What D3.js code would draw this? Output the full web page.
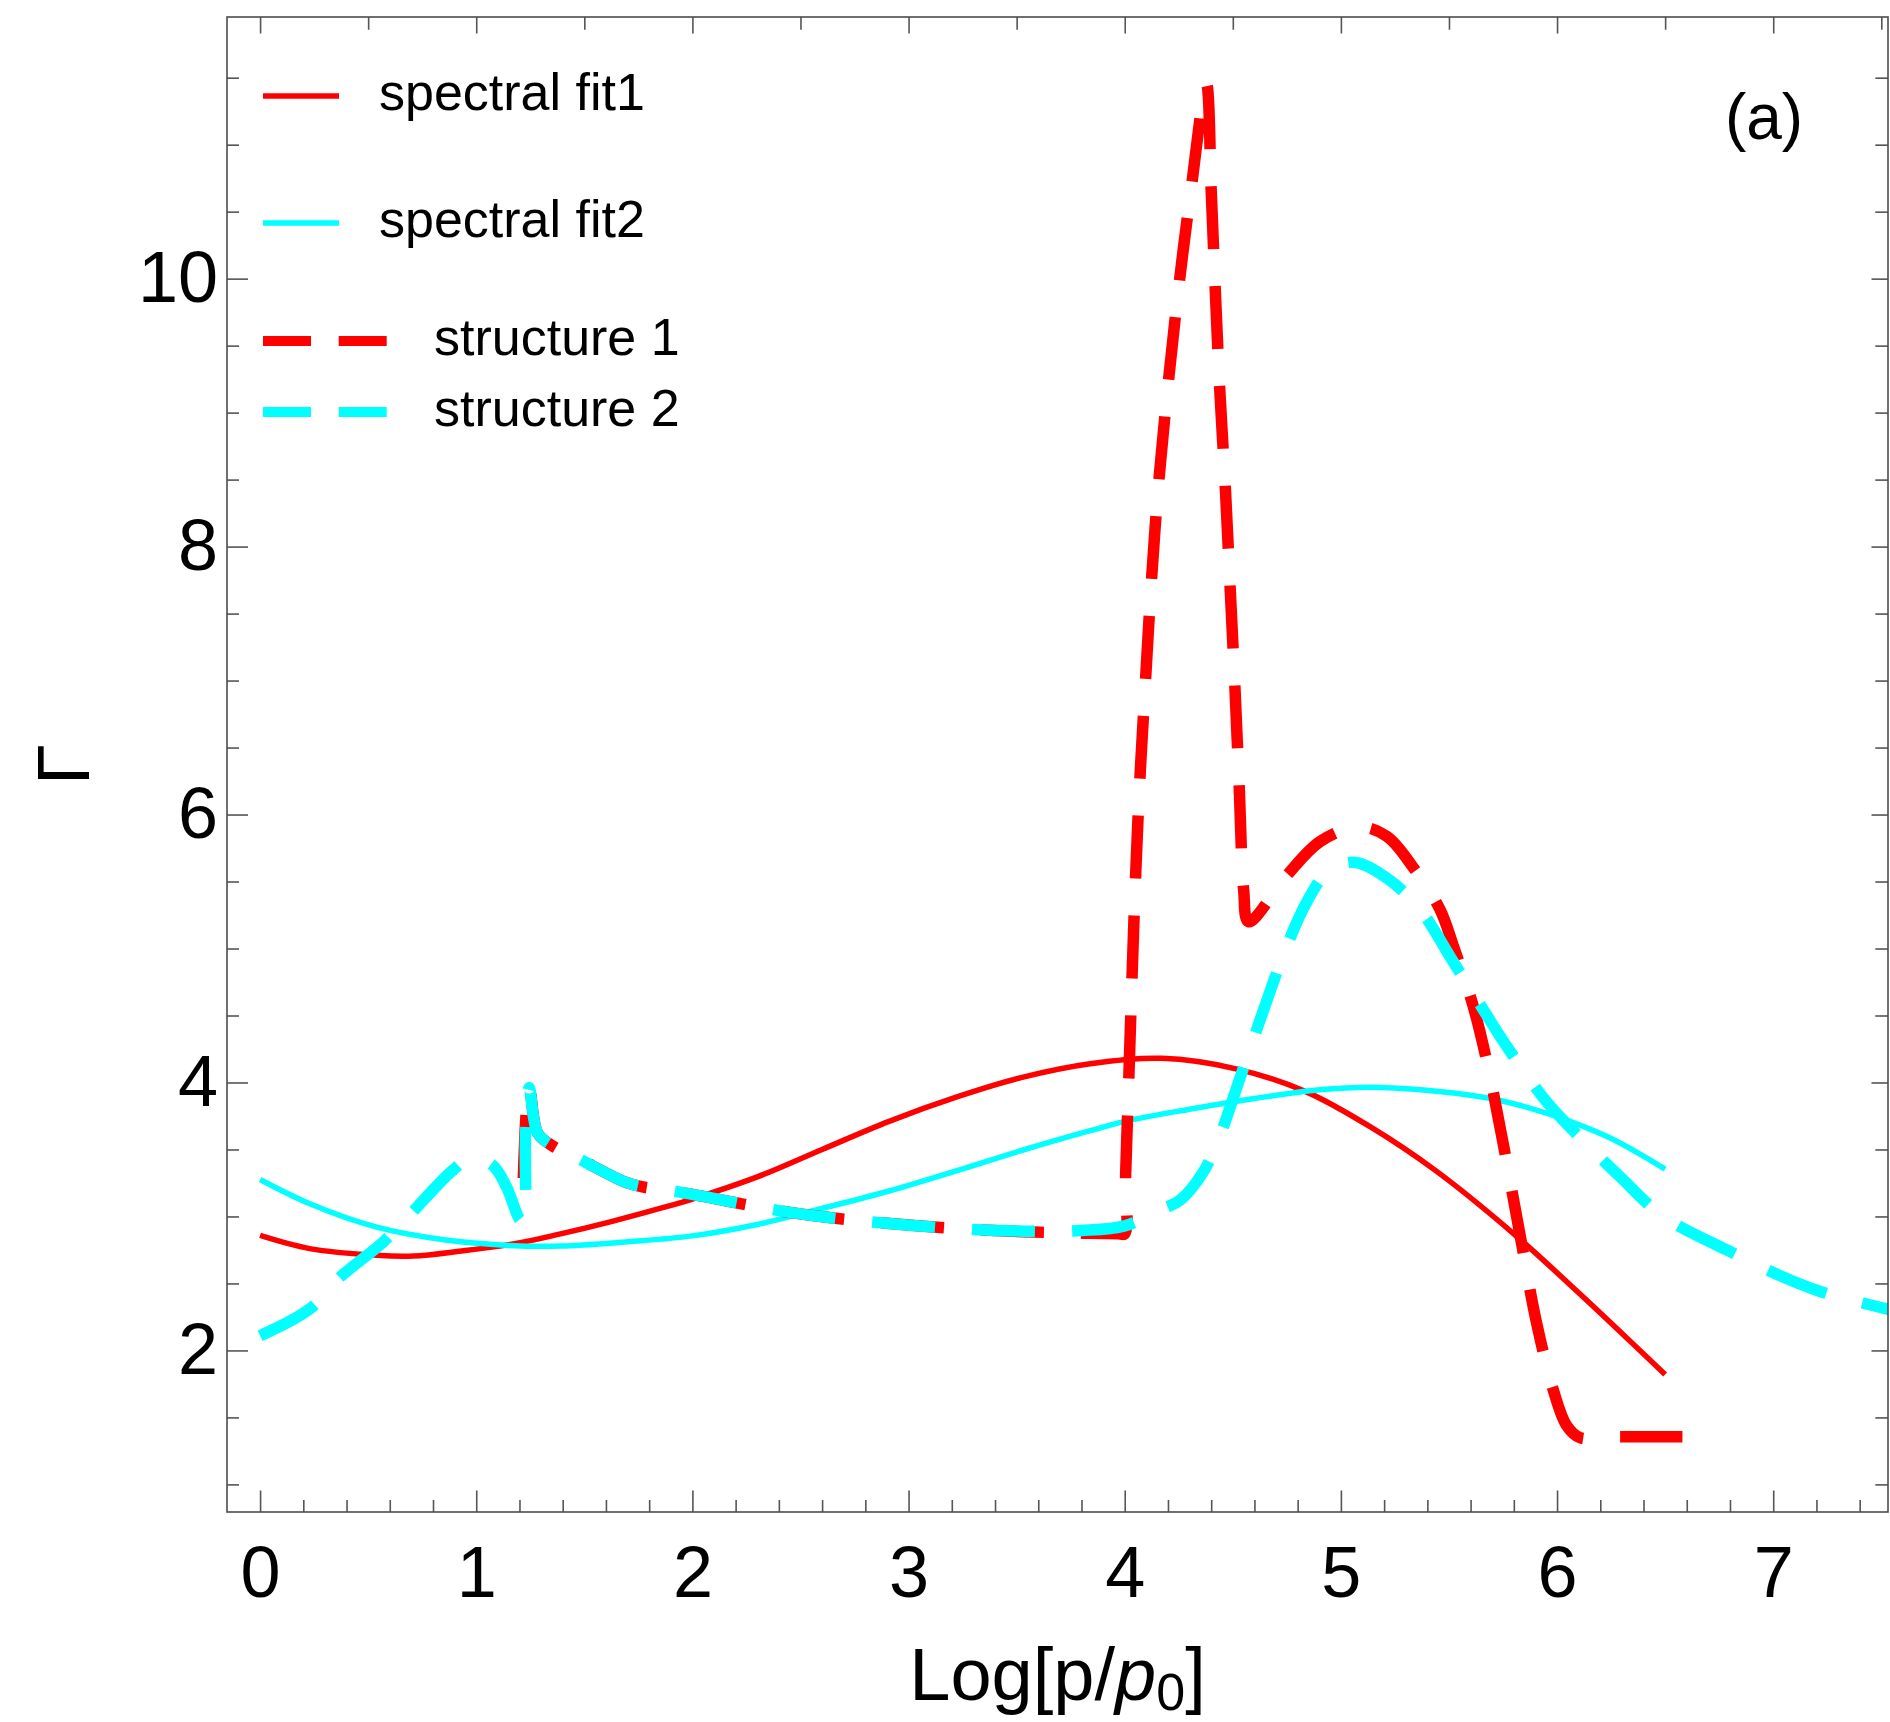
<!DOCTYPE html>
<html>
<head>
<meta charset="utf-8">
<script src="https://cdn.jsdelivr.net/npm/d3@7"></script>
<style>
  body { margin: 0; background: #fff; }
  text { font-family: "Liberation Sans", Arial, sans-serif; }
</style>
</head>
<body>
<script>
// tick labels
const xTickValues = [0, 1, 2, 3, 4, 5, 6, 7];
const yTickValues = [2, 4, 6, 8, 10];

// series: [Log[p/p0], Gamma]
const spectralFit1 = [
  [0, 2.858], [0.23, 2.76], [0.54, 2.71], [0.71, 2.705], [0.92, 2.74], [1.19, 2.80],
  [1.39, 2.87], [1.62, 2.96], [1.85, 3.06], [2.0, 3.13], [2.3, 3.295], [2.6, 3.50],
  [2.91, 3.71], [3.22, 3.89], [3.53, 4.04], [3.84, 4.14], [4.17, 4.18], [4.52, 4.10],
  [4.84, 3.93], [5.135, 3.67], [5.44, 3.34], [5.8, 2.87], [6.1, 2.43], [6.5, 1.82]
];
const spectralFit2 = [
  [0, 3.276], [0.23, 3.095], [0.54, 2.92], [0.85, 2.826], [1.15, 2.784], [1.39, 2.779],
  [1.69, 2.81], [2.0, 2.855], [2.3, 2.94], [2.6, 3.06], [2.91, 3.19], [3.22, 3.34],
  [3.53, 3.496], [3.84, 3.64], [4.0, 3.71], [4.3, 3.80], [4.6, 3.88], [4.9, 3.946],
  [5.135, 3.965], [5.37, 3.946], [5.66, 3.89], [5.85, 3.82], [6.06, 3.71], [6.26, 3.575],
  [6.5, 3.354]
];
const structure1 = [
  [1.215, 3.13], [1.245, 3.97], [1.285, 3.62], [1.36, 3.52], [1.46, 3.443], [1.69, 3.256],
  [1.77, 3.22], [1.89, 3.194], [2.0, 3.165], [2.45, 3.03], [2.76, 2.97], [3.22, 2.91],
  [3.53, 2.886], [3.8, 2.875], [3.97, 2.871], [4.0, 2.87], [4.004, 3.3], [4.018, 3.99],
  [4.033, 4.75], [4.049, 5.49], [4.069, 6.23], [4.095, 6.97], [4.123, 7.73], [4.156, 8.46],
  [4.2, 9.2], [4.25, 9.94], [4.308, 10.68], [4.378, 11.45], [4.40, 10.66], [4.419, 9.91],
  [4.44, 9.16], [4.466, 8.42], [4.488, 7.68], [4.51, 6.94], [4.53, 6.19], [4.55, 5.44],
  [4.573, 5.20], [4.75, 5.546], [4.905, 5.80], [5.082, 5.908], [5.212, 5.838], [5.335, 5.604],
  [5.458, 5.293], [5.52, 5.02], [5.612, 4.57], [5.68, 4.12], [5.75, 3.55], [5.83, 2.85],
  [5.906, 2.2], [5.983, 1.703], [6.045, 1.438], [6.106, 1.349], [6.25, 1.356], [6.58, 1.355]
];
const structure2 = [
  [0, 2.11], [0.23, 2.31], [0.37, 2.547], [0.57, 2.81], [0.69, 3.007], [0.89, 3.343],
  [0.98, 3.44], [1.077, 3.38], [1.14, 3.22], [1.2, 2.98], [1.218, 2.96], [1.228, 3.6],
  [1.245, 3.96], [1.285, 3.62], [1.36, 3.52], [1.46, 3.443], [1.69, 3.256], [1.77, 3.22],
  [1.89, 3.194], [2.0, 3.165], [2.45, 3.03], [2.76, 2.97], [3.22, 2.91], [3.53, 2.89],
  [3.8, 2.895], [4.0, 2.93], [4.166, 3.05], [4.258, 3.125], [4.366, 3.34], [4.443, 3.613],
  [4.535, 4.042], [4.674, 4.688], [4.75, 5.02], [4.843, 5.35], [4.935, 5.565], [5.058, 5.643],
  [5.212, 5.526], [5.366, 5.29], [5.52, 4.90], [5.66, 4.54], [5.767, 4.27], [5.952, 3.855],
  [6.106, 3.59], [6.292, 3.295], [6.492, 3.0], [6.785, 2.75], [7.032, 2.558], [7.218, 2.44],
  [7.418, 2.352], [7.55, 2.30]
];

const series = [
  { name: "spectral fit1", data: spectralFit1, color: "#ff0000", width: 5.5, dash: null },
  { name: "spectral fit2", data: spectralFit2, color: "#00ffff", width: 5.5, dash: null },
  { name: "structure 1", data: structure1, color: "#ff0000", width: 11.5, dash: "63,37", endOnDash: true },
  { name: "structure 2", data: structure2, color: "#00ffff", width: 11.5, dash: "63,37" }
];

const width = 1890, height = 1722;
const box = { left: 227, right: 1888, top: 17, bottom: 1512 };

const svg = d3.select("body").append("svg")
  .attr("width", width)
  .attr("height", height)
  .style("background-color", "white");

const x = d3.scaleLinear().domain([-0.153, 7.531]).range([box.left, box.right]);
const y = d3.scaleLinear().domain([0.794, 11.953]).range([box.bottom, box.top]);

svg.append("defs").append("clipPath").attr("id", "plot-clip")
  .append("rect")
  .attr("x", box.left).attr("y", box.top)
  .attr("width", box.right - box.left).attr("height", box.bottom - box.top);

// curves
const line = d3.line()
  .x(d => x(d[0]))
  .y(d => y(d[1]))
  .curve(d3.curveCatmullRom.alpha(0.5));

svg.append("g").attr("clip-path", "url(#plot-clip)")
  .selectAll("path")
  .data(series)
  .enter().append("path")
  .attr("d", d => line(d.data))
  .attr("fill", "none")
  .attr("stroke", d => d.color)
  .attr("stroke-width", d => d.width)
  .attr("stroke-dasharray", d => d.dash)
  .attr("stroke-linecap", "butt")
  .attr("stroke-linejoin", "miter")
  .each(function(d) {
    // shift the dash phase so the curve finishes on a whole dash
    if (d.endOnDash) {
      const len = this.getTotalLength();
      const off = ((63 - len) % 100 + 100) % 100;
      d3.select(this).attr("stroke-dashoffset", off);
    }
  });

// frame ticks, all pointing inward
const tickColor = "#555";
function styleAxis(g) {
  g.select(".domain").remove();
  g.selectAll(".tick line").attr("stroke", tickColor).attr("stroke-width", 1.6);
  g.selectAll(".tick text").attr("fill", "black").style("font-size", "72px");
}

const xMinor = d3.range(0, 7.5, 0.2).filter(v => Math.abs(v - Math.round(v)) > 1e-6);
const yMinor = d3.range(1, 11.6, 0.5).filter(v => v % 2 !== 0);
const topTicks = d3.range(0, 7.51, 0.5);
const rightTicks = d3.range(1, 11.6, 0.5);

svg.append("g").attr("transform", `translate(0,${box.bottom})`)
  .call(d3.axisBottom(x).tickValues(xMinor).tickSize(-12).tickFormat(""))
  .call(styleAxis);
svg.append("g").attr("transform", `translate(0,${box.bottom})`)
  .call(d3.axisBottom(x).tickValues(xTickValues).tickSize(-21.5).tickPadding(34).tickFormat(d3.format("d")))
  .call(styleAxis);

svg.append("g").attr("transform", `translate(${box.left},0)`)
  .call(d3.axisLeft(y).tickValues(yMinor).tickSize(-12).tickFormat(""))
  .call(styleAxis);
svg.append("g").attr("transform", `translate(${box.left},0)`)
  .call(d3.axisLeft(y).tickValues(yTickValues).tickSize(-21).tickPadding(9).tickFormat(d3.format("d")))
  .call(styleAxis);

svg.append("g").attr("transform", `translate(0,${box.top})`)
  .call(d3.axisTop(x).tickValues(topTicks).tickSize(-12.7).tickFormat(""))
  .call(styleAxis)
  .selectAll(".tick line").attr("y2", d => Number.isInteger(d) ? 16.5 : 12.7);

svg.append("g").attr("transform", `translate(${box.right},0)`)
  .call(d3.axisRight(y).tickValues(rightTicks).tickSize(-12.7).tickFormat(""))
  .call(styleAxis)
  .selectAll(".tick line").attr("x2", d => d % 2 === 0 ? -16.5 : -12.7);

// frame
svg.append("rect")
  .attr("x", box.left).attr("y", box.top)
  .attr("width", box.right - box.left).attr("height", box.bottom - box.top)
  .attr("fill", "none")
  .attr("stroke", "#4d4d4d")
  .attr("stroke-width", 1.6);

// axis titles
const xTitle = svg.append("text")
  .attr("x", (box.left + box.right) / 2)
  .attr("y", 1700)
  .attr("text-anchor", "middle")
  .style("font-size", "74px");
xTitle.append("tspan").text("Log[p/");
xTitle.append("tspan").style("font-style", "italic").text("p");
xTitle.append("tspan").attr("dy", 10).style("font-size", "52px").text("0");
xTitle.append("tspan").attr("dy", -10).text("]");

svg.append("text")
  .attr("transform", `translate(63,${(box.top + box.bottom) / 2}) rotate(-90)`)
  .attr("text-anchor", "middle")
  .attr("dy", "0.35em")
  .style("font-size", "74px")
  .text("Γ");

svg.append("text")
  .attr("x", 1764).attr("y", 139)
  .attr("text-anchor", "middle")
  .style("font-size", "64px")
  .text("(a)");

// legend
const legendRows = [
  { s: series[0], y: 96, x1: 263, x2: 339, tx: 379, dash: null, w: 5.5 },
  { s: series[1], y: 223, x1: 263, x2: 339, tx: 379, dash: null, w: 5.5 },
  { s: series[2], y: 341, x1: 263, x2: 387, tx: 434, dash: "48,27.7", w: 10 },
  { s: series[3], y: 412, x1: 263, x2: 387, tx: 434, dash: "48,27.7", w: 10 }
];
const legend = svg.append("g");
legendRows.forEach(r => {
  legend.append("line")
    .attr("x1", r.x1).attr("x2", r.x2)
    .attr("y1", r.y).attr("y2", r.y)
    .attr("stroke", r.s.color)
    .attr("stroke-width", r.w)
    .attr("stroke-dasharray", r.dash);
  legend.append("text")
    .attr("x", r.tx).attr("y", r.y + 14)
    .style("font-size", "52px")
    .text(r.s.name);
});
</script>
</body>
</html>
